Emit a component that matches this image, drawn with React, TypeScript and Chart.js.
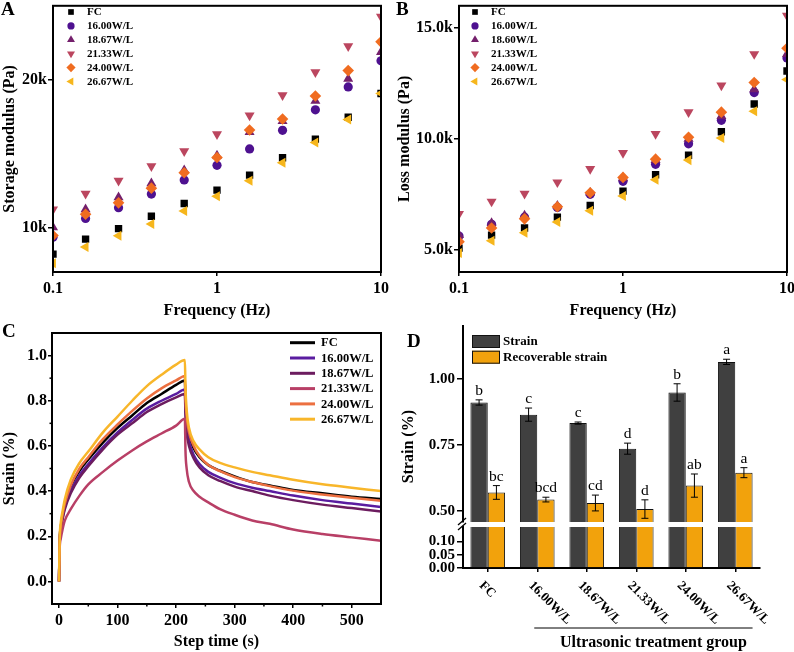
import React, { useEffect, useRef } from "react";
import { Chart, registerables } from "chart.js";

Chart.register(...registerables);

const SERIF = '"Liberation Serif", "Times New Roman", Times, serif';

// ---------------- Panels A & B (frequency sweep) ----------------
const frequencyHz = [0.1, 0.158, 0.251, 0.398, 0.631, 1, 1.58, 2.51, 3.98, 6.31, 10];
const namesA = ["FC", "16.00W/L", "18.67W/L", "21.33W/L", "24.00W/L", "26.67W/L"];
const namesB = ["FC", "16.00W/L", "18.60W/L", "21.33W/L", "24.00W/L", "26.67W/L"];

const storageFC = [8210, 9225, 9932, 10771, 11632, 12537, 13553, 14723, 15981, 17461, 19073];
const storage16 = [9357, 10616, 11345, 12272, 13221, 14215, 15319, 16578, 17969, 19514, 21281];
const storage1867 = [10020, 11234, 12051, 13000, 13884, 14877, 16467, 17196, 18565, 20066, 21877];
const storage2133 = [11234, 12294, 13177, 14149, 15164, 16313, 17593, 18962, 20508, 22274, 24261];
const storage24 = [9468, 10903, 11676, 12669, 13707, 14745, 16600, 17350, 18896, 20618, 22561];
const storage2667 = [7591, 8695, 9446, 10241, 11124, 12117, 13177, 14392, 15761, 17306, 19073];

const lossFC = [5074, 5662, 5985, 6471, 7000, 7647, 8382, 9265, 10324, 11574, 13059];
const loss16 = [5618, 6147, 6471, 6912, 7500, 8088, 8853, 9779, 10838, 12088, 13647];
const loss1860 = [5662, 6206, 6544, 6985, 7574, 8235, 9044, 10000, 11029, 12235, 13824];
const loss2133 = [6618, 7176, 7529, 8044, 8647, 9368, 10221, 11206, 12412, 13824, 15559];
const loss24 = [5368, 5985, 6397, 6941, 7574, 8265, 9088, 10074, 11206, 12544, 14088];
const loss2667 = [4853, 5412, 5765, 6250, 6765, 7426, 8162, 9044, 10044, 11250, 12676];

const freqTicks = [0.1, 1, 10];
const storageTicks = [10000, 20000];
const lossTicks = [5000, 10000, 15000];

const markerColors = ["#000000", "#4e1190", "#74206c", "#bb465f", "#f06c20", "#f6b61c"];
const markerStyles = ["rect", "circle", "triangle", "triangle", "rectRot", "triangle"];
const markerRotations = [0, 0, 0, 180, 0, 270];
const markerRadii = [5.2, 4.6, 5.8, 5.8, 5.8, 5.8];
const legendRadii = [4, 3.6, 4.6, 4.6, 4.6, 4.6];

// ---------------- Panel C (creep / recovery) ----------------
const stepTime = [0, 1, 3, 6, 10, 20, 35, 50, 75, 100, 125, 150, 175, 200, 215, 216, 218, 222, 230, 240, 255, 275, 300, 330, 360, 400, 450, 500, 550];
const namesC = ["FC", "16.00W/L", "18.67W/L", "21.33W/L", "24.00W/L", "26.67W/L"];
const strainFC = [0, 0.17, 0.24, 0.29, 0.34, 0.42, 0.49, 0.54, 0.615, 0.68, 0.735, 0.79, 0.83, 0.87, 0.89, 0.8, 0.72, 0.65, 0.59, 0.55, 0.515, 0.49, 0.465, 0.44, 0.425, 0.405, 0.39, 0.375, 0.365];
const strain16 = [0, 0.16, 0.23, 0.28, 0.33, 0.4, 0.47, 0.52, 0.595, 0.66, 0.715, 0.765, 0.8, 0.83, 0.85, 0.76, 0.68, 0.62, 0.56, 0.52, 0.485, 0.46, 0.435, 0.415, 0.4, 0.38, 0.36, 0.345, 0.33];
const strain1867 = [0, 0.16, 0.225, 0.275, 0.32, 0.39, 0.46, 0.51, 0.585, 0.65, 0.7, 0.75, 0.785, 0.815, 0.83, 0.74, 0.66, 0.6, 0.545, 0.505, 0.47, 0.445, 0.42, 0.4, 0.38, 0.36, 0.34, 0.325, 0.31];
const strain2133 = [0, 0.14, 0.19, 0.23, 0.27, 0.32, 0.38, 0.43, 0.485, 0.535, 0.58, 0.62, 0.655, 0.69, 0.72, 0.58, 0.5, 0.44, 0.4, 0.375, 0.35, 0.32, 0.295, 0.27, 0.255, 0.23, 0.21, 0.195, 0.18];
const strain24 = [0, 0.17, 0.24, 0.295, 0.345, 0.425, 0.5, 0.55, 0.63, 0.695, 0.755, 0.81, 0.855, 0.89, 0.91, 0.81, 0.73, 0.66, 0.6, 0.555, 0.515, 0.488, 0.462, 0.44, 0.422, 0.402, 0.385, 0.37, 0.357];
const strain2667 = [0, 0.18, 0.26, 0.31, 0.365, 0.45, 0.525, 0.575, 0.66, 0.73, 0.8, 0.865, 0.915, 0.96, 0.98, 0.86, 0.76, 0.68, 0.62, 0.585, 0.55, 0.525, 0.505, 0.485, 0.47, 0.45, 0.43, 0.415, 0.4];
const lineColors = ["#000000", "#5a1ca0", "#6c1c5f", "#b83f66", "#ec7040", "#f8b62a"];
const timeTicks = [0, 100, 200, 300, 400, 500];
const timeMinorTicks = [50, 150, 250, 350, 450];
const strainTicksC = [0, 0.2, 0.4, 0.6, 0.8, 1.0];
const strainMinorC = [0.1, 0.3, 0.5, 0.7, 0.9];

// ---------------- Panel D (bars with broken axis) ----------------
const groupsD = ["FC", "16.00W/L", "18.67W/L", "21.33W/L", "24.00W/L", "26.67W/L"];
const strainMean = [0.91, 0.864, 0.832, 0.735, 0.948, 1.064];
const strainErr = [0.01, 0.025, 0.004, 0.021, 0.033, 0.01];
const strainLetters = ["b", "c", "c", "d", "b", "a"];
const recovMean = [0.569, 0.542, 0.529, 0.506, 0.595, 0.644];
const recovErr = [0.026, 0.009, 0.03, 0.035, 0.044, 0.019];
const recovLetters = ["bc", "bcd", "cd", "d", "ab", "a"];
const upperTicksD = [0.5, 0.75, 1.0];
const lowerTicksD = [0, 0.05, 0.1];
const barColorsD = ["#404040", "#f2a20c"];

// ---------------- helpers ----------------
function baseOptions(padding: any) {
  return {
    responsive: false,
    maintainAspectRatio: false,
    animation: false,
    devicePixelRatio: 1,
    events: [],
    layout: { padding },
    plugins: { legend: { display: false }, tooltip: { enabled: false } },
  } as any;
}

function yFit(width: number, ticks: number[]) {
  return {
    afterFit: (s: any) => {
      s.width = width;
      s.paddingTop = 0;
      s.paddingBottom = 0;
    },
    afterBuildTicks: (s: any) => {
      s.ticks = ticks.map((v) => ({ value: v }));
    },
  };
}
function xFit(height: number, ticks?: number[]) {
  const o: any = {
    afterFit: (s: any) => {
      s.height = height;
      s.paddingLeft = 0;
      s.paddingRight = 0;
    },
  };
  if (ticks) o.afterBuildTicks = (s: any) => { s.ticks = ticks.map((v) => ({ value: v })); };
  return o;
}

const tickGrid = (len: number) => ({
  drawOnChartArea: false,
  drawTicks: true,
  tickLength: len,
  color: "#000",
  lineWidth: 1.5,
});

function drawMarker(ctx: CanvasRenderingContext2D, style: string, rot: number, x: number, y: number, r: number, color: string) {
  ctx.save();
  ctx.translate(x, y);
  ctx.rotate((rot * Math.PI) / 180);
  ctx.fillStyle = color;
  ctx.beginPath();
  if (style === "rect") {
    const s = r * Math.SQRT1_2;
    ctx.rect(-s, -s, 2 * s, 2 * s);
  } else if (style === "circle") {
    ctx.arc(0, 0, r, 0, Math.PI * 2);
  } else if (style === "triangle") {
    for (let k = 0; k < 3; k++) {
      const a = (k * 2 * Math.PI) / 3;
      const px = Math.sin(a) * r;
      const py = -Math.cos(a) * r;
      if (k === 0) ctx.moveTo(px, py);
      else ctx.lineTo(px, py);
    }
    ctx.closePath();
  } else {
    ctx.moveTo(0, -r);
    ctx.lineTo(r, 0);
    ctx.lineTo(0, r);
    ctx.lineTo(-r, 0);
    ctx.closePath();
  }
  ctx.fill();
  ctx.restore();
}

function framePlugin() {
  return {
    id: "frame",
    afterDatasetsDraw(chart: any) {
      const { ctx, chartArea: a } = chart;
      ctx.save();
      ctx.strokeStyle = "#000";
      ctx.lineWidth = 2;
      ctx.strokeRect(a.left, a.top, a.right - a.left, a.bottom - a.top);
      ctx.restore();
    },
  };
}

function panelLabel(text: string, x: number, y: number) {
  return {
    id: "panelLabel",
    afterDraw(chart: any) {
      const ctx = chart.ctx;
      ctx.save();
      ctx.font = `bold 19px ${SERIF}`;
      ctx.fillStyle = "#000";
      ctx.textAlign = "left";
      ctx.textBaseline = "alphabetic";
      ctx.fillText(text, x, y);
      ctx.restore();
    },
  };
}

const tickFont = (size: number) => ({ family: SERIF, size, weight: "bold" as const });

function makeFreqChart(
  canvas: HTMLCanvasElement,
  names: string[],
  series: number[][],
  yMin: number,
  yMax: number,
  yTicks: number[],
  yFmt: (v: number) => string,
  yTitle: string,
  leftW: number,
  padRight: number,
  legendX: number,
  label: string
) {
  const datasets = series.map((vals, i) => ({
    label: names[i],
    data: frequencyHz.map((f, k) => ({ x: f, y: vals[k] })),
    backgroundColor: markerColors[i],
    borderColor: markerColors[i],
    pointStyle: markerStyles[i],
    pointRotation: markerRotations[i],
    pointRadius: markerRadii[i],
    pointHoverRadius: markerRadii[i],
    pointBorderWidth: 0,
    clip: 0,
    order: 5 - i,
  }));
  const legend = {
    id: "legendAB",
    afterDraw(chart: any) {
      const ctx = chart.ctx;
      ctx.save();
      chart.data.datasets.forEach((ds: any, i: number) => {
        const y = 12 + i * 13.9;
        drawMarker(ctx, markerStyles[i], markerRotations[i], legendX, y, legendRadii[i], markerColors[i]);
        ctx.font = `bold 11px ${SERIF}`;
        ctx.fillStyle = "#000";
        ctx.textAlign = "left";
        ctx.textBaseline = "middle";
        ctx.fillText(ds.label, legendX + 16, y + 0.5);
      });
      ctx.restore();
    },
  };
  return new Chart(canvas, {
    type: "scatter",
    data: { datasets },
    options: {
      ...baseOptions({ top: 1, right: padRight, left: 0, bottom: 0 }),
      scales: {
        x: {
          type: "logarithmic",
          min: 0.1,
          max: 10,
          ...xFit(48, freqTicks),
          border: { display: false },
          grid: tickGrid(4),
          ticks: {
            font: tickFont(16),
            color: "#000",
            padding: 3,
            autoSkip: false,
            maxRotation: 0,
            callback: (v: any) => String(Number(v)),
          },
          title: {
            display: true,
            text: "Frequency (Hz)",
            font: tickFont(16),
            color: "#000",
            padding: { top: 0, bottom: 0 },
          },
        },
        y: {
          type: "linear",
          min: yMin,
          max: yMax,
          ...yFit(leftW, yTicks),
          border: { display: false },
          grid: tickGrid(5),
          ticks: {
            font: tickFont(16),
            color: "#000",
            padding: 1,
            autoSkip: false,
            callback: (v: any) => yFmt(Number(v)),
          },
          title: {
            display: true,
            text: yTitle,
            font: tickFont(16),
            color: "#000",
            padding: { top: 0, bottom: 0 },
          },
        },
      },
    } as any,
    plugins: [framePlugin(), legend, panelLabel(label, 1, 15)] as any,
  });
}

function makeCreepChart(canvas: HTMLCanvasElement) {
  const series = [strainFC, strain16, strain1867, strain2133, strain24, strain2667];
  const datasets = series.map((vals, i) => ({
    label: namesC[i],
    data: stepTime.map((t, k) => ({ x: t, y: vals[k] })),
    borderColor: lineColors[i],
    backgroundColor: lineColors[i],
    borderWidth: 2.5,
    pointRadius: 0,
    cubicInterpolationMode: "monotone",
    fill: false,
    clip: 0,
    order: 5 - i,
  }));
  const extras = {
    id: "creepExtras",
    afterDraw(chart: any) {
      const { ctx, chartArea: a, scales } = chart;
      ctx.save();
      ctx.strokeStyle = "#000";
      ctx.lineWidth = 1.5;
      // minor ticks
      timeMinorTicks.forEach((t) => {
        const px = scales.x.getPixelForValue(t);
        ctx.beginPath();
        ctx.moveTo(px, a.bottom);
        ctx.lineTo(px, a.bottom + 2.5);
        ctx.stroke();
      });
      strainMinorC.forEach((v) => {
        const py = scales.y.getPixelForValue(v);
        ctx.beginPath();
        ctx.moveTo(a.left, py);
        ctx.lineTo(a.left - 2.5, py);
        ctx.stroke();
      });
      // legend
      chart.data.datasets.forEach((ds: any, i: number) => {
        const y = 22.7 + i * 15.3;
        ctx.strokeStyle = lineColors[i];
        ctx.lineWidth = 3;
        ctx.beginPath();
        ctx.moveTo(290, y);
        ctx.lineTo(315, y);
        ctx.stroke();
        ctx.font = `bold 12.5px ${SERIF}`;
        ctx.fillStyle = "#000";
        ctx.textAlign = "left";
        ctx.textBaseline = "middle";
        ctx.fillText(ds.label, 321, y + 0.5);
      });
      ctx.restore();
    },
  };
  return new Chart(canvas, {
    type: "line",
    data: { datasets },
    options: {
      ...baseOptions({ top: 13, right: 14, left: 0, bottom: 0 }),
      scales: {
        x: {
          type: "linear",
          min: -12,
          max: 550,
          ...xFit(48, timeTicks),
          border: { display: false },
          grid: tickGrid(4),
          ticks: { font: tickFont(16), color: "#000", padding: 3, autoSkip: false, maxRotation: 0 },
          title: { display: true, text: "Step time (s)", font: tickFont(16), color: "#000", padding: { top: 0, bottom: 1 } },
        },
        y: {
          type: "linear",
          min: -0.1,
          max: 1.1,
          ...yFit(52, strainTicksC),
          border: { display: false },
          grid: tickGrid(4),
          ticks: {
            font: tickFont(16),
            color: "#000",
            padding: 1,
            autoSkip: false,
            callback: (v: any) => Number(v).toFixed(1),
          },
          title: { display: true, text: "Strain (%)", font: tickFont(16), color: "#000", padding: { top: 0, bottom: 0 } },
        },
      },
    } as any,
    plugins: [framePlugin(), extras, panelLabel("C", 2, 17)] as any,
  });
}

function barDatasets() {
  return [
    {
      label: "Strain",
      data: strainMean,
      backgroundColor: barColorsD[0],
      borderColor: "#111",
      borderWidth: 1,
      barPercentage: 1,
      categoryPercentage: 0.7,
      clip: 0,
    },
    {
      label: "Recoverable strain",
      data: recovMean,
      backgroundColor: barColorsD[1],
      borderColor: "#111",
      borderWidth: 1,
      barPercentage: 1,
      categoryPercentage: 0.7,
      clip: 0,
    },
  ];
}

function makeBarUpper(canvas: HTMLCanvasElement) {
  const errs = [strainErr, recovErr];
  const letters = [strainLetters, recovLetters];
  const extras = {
    id: "barUpperExtras",
    afterDraw(chart: any) {
      const { ctx, chartArea: a, scales } = chart;
      ctx.save();
      // error bars + letters
      [0, 1].forEach((d) => {
        const meta = chart.getDatasetMeta(d);
        const vals = chart.data.datasets[d].data;
        meta.data.forEach((el: any, j: number) => {
          const v = vals[j];
          const e = errs[d][j];
          const yt = scales.y.getPixelForValue(v + e);
          const yb = scales.y.getPixelForValue(v - e);
          ctx.strokeStyle = "#000";
          ctx.lineWidth = 1;
          ctx.beginPath();
          ctx.moveTo(el.x, yt);
          ctx.lineTo(el.x, yb);
          ctx.moveTo(el.x - 3.5, yt);
          ctx.lineTo(el.x + 3.5, yt);
          ctx.moveTo(el.x - 3.5, yb);
          ctx.lineTo(el.x + 3.5, yb);
          ctx.stroke();
          ctx.font = `15.5px ${SERIF}`;
          ctx.fillStyle = "#000";
          ctx.textAlign = "center";
          ctx.textBaseline = "alphabetic";
          ctx.fillText(letters[d][j], el.x, yt - 5);
        });
      });
      // legend
      chart.data.datasets.forEach((ds: any, i: number) => {
        const y = 15 + i * 15.7;
        ctx.fillStyle = barColorsD[i];
        ctx.fillRect(77, y, 28, 13);
        ctx.strokeStyle = "#111";
        ctx.lineWidth = 1;
        ctx.strokeRect(77.5, y + 0.5, 27, 12);
        ctx.font = `bold 13px ${SERIF}`;
        ctx.fillStyle = "#000";
        ctx.textAlign = "left";
        ctx.textBaseline = "middle";
        ctx.fillText(ds.label, 108, y + 6.5);
      });
      // axis break marks
      const x0 = a.left;
      const yb = a.bottom;
      ctx.strokeStyle = "#000";
      ctx.lineWidth = 1.3;
      for (let k = 0; k < 2; k++) {
        ctx.beginPath();
        ctx.moveTo(x0 - 5, yb + 3 + k * 5);
        ctx.lineTo(x0 + 3, yb - 4 + k * 5);
        ctx.stroke();
      }
      // y title
      ctx.save();
      ctx.translate(13.5, 126.7);
      ctx.rotate(-Math.PI / 2);
      ctx.font = `bold 16px ${SERIF}`;
      ctx.fillStyle = "#000";
      ctx.textAlign = "center";
      ctx.textBaseline = "middle";
      ctx.fillText("Strain (%)", 0, 0);
      ctx.restore();
      ctx.restore();
    },
  };
  return new Chart(canvas, {
    type: "bar",
    data: { labels: groupsD, datasets: barDatasets() },
    options: {
      ...baseOptions({ top: 6, right: 34, left: 0, bottom: 130 }),
      scales: {
        x: { display: false, offset: true },
        y: {
          type: "linear",
          min: 0.457,
          max: 1.2,
          ...yFit(68, upperTicksD),
          border: { display: true, color: "#000", width: 2 },
          grid: tickGrid(6),
          ticks: {
            font: tickFont(15),
            color: "#000",
            padding: 2,
            autoSkip: false,
            callback: (v: any) => Number(v).toFixed(2),
          },
        },
      },
    } as any,
    plugins: [extras, panelLabel("D", 12, 27)] as any,
  });
}

function makeBarLower(canvas: HTMLCanvasElement) {
  const extras = {
    id: "barLowerExtras",
    afterDraw(chart: any) {
      const { ctx, chartArea: a, scales } = chart;
      ctx.save();
      ctx.font = `bold 13px ${SERIF}`;
      ctx.fillStyle = "#000";
      ctx.textAlign = "left";
      ctx.textBaseline = "top";
      chart.data.labels.forEach((g: string, i: number) => {
        const px = scales.x.getPixelForValue(i);
        ctx.save();
        ctx.translate(px - 2, a.bottom + 11);
        ctx.rotate(Math.PI / 4);
        ctx.fillText(g, 0, 0);
        ctx.restore();
      });
      const lastBar = chart.getDatasetMeta(1).data[5];
      const x1 = scales.x.getPixelForValue(1) - 3;
      const x2 = lastBar.x + lastBar.width / 2;
      ctx.strokeStyle = "#000";
      ctx.lineWidth = 1;
      ctx.beginPath();
      ctx.moveTo(x1, a.bottom + 60);
      ctx.lineTo(x2, a.bottom + 60);
      ctx.stroke();
      ctx.font = `bold 16px ${SERIF}`;
      ctx.textAlign = "center";
      ctx.textBaseline = "middle";
      ctx.fillText("Ultrasonic treatment group", (x1 + x2) / 2 + 10, a.bottom + 75);
      ctx.restore();
    },
  };
  return new Chart(canvas, {
    type: "bar",
    data: { labels: groupsD, datasets: barDatasets() },
    options: {
      ...baseOptions({ top: 7, right: 34, left: 0, bottom: 0 }),
      scales: {
        x: {
          offset: true,
          ...xFit(84),
          border: { display: true, color: "#000", width: 2 },
          grid: { ...tickGrid(4), offset: false },
          ticks: { display: false },
        },
        y: {
          type: "linear",
          min: 0,
          max: 0.154,
          ...yFit(68, lowerTicksD),
          border: { display: true, color: "#000", width: 2 },
          grid: tickGrid(6),
          ticks: {
            font: tickFont(15),
            color: "#000",
            padding: 2,
            autoSkip: false,
            callback: (v: any) => Number(v).toFixed(2),
          },
        },
      },
    } as any,
    plugins: [extras] as any,
  });
}

export default function App() {
  const refA = useRef<HTMLCanvasElement>(null);
  const refB = useRef<HTMLCanvasElement>(null);
  const refC = useRef<HTMLCanvasElement>(null);
  const refDU = useRef<HTMLCanvasElement>(null);
  const refDL = useRef<HTMLCanvasElement>(null);

  useEffect(() => {
    Chart.defaults.font.family = SERIF;
    Chart.defaults.color = "#000";
    const charts = [
      makeFreqChart(
        refA.current!,
        namesA,
        [storageFC, storage16, storage1867, storage2133, storage24, storage2667],
        7000,
        25000,
        storageTicks,
        (v) => `${Math.round(v / 1000)}k`,
        "Storage modulus (Pa)",
        53,
        14,
        71,
        "A"
      ),
      makeFreqChart(
        refB.current!,
        namesB,
        [lossFC, loss16, loss1860, loss2133, loss24, loss2667],
        4000,
        16000,
        lossTicks,
        (v) => `${(v / 1000).toFixed(1)}k`,
        "Loss modulus (Pa)",
        64,
        7,
        80,
        "B"
      ),
      makeCreepChart(refC.current!),
      makeBarUpper(refDU.current!),
      makeBarLower(refDL.current!),
    ];
    return () => charts.forEach((c) => c.destroy());
  }, []);

  const cs = (left: number, top: number, w: number, h: number): React.CSSProperties => ({
    position: "absolute",
    left,
    top,
    width: w,
    height: h,
  });

  return (
    <div style={{ position: "absolute", left: 0, top: 0, width: 794, height: 652, background: "#fff", overflow: "hidden" }}>
      <canvas ref={refA} width={395} height={320} style={cs(0, 0, 395, 320)} />
      <canvas ref={refB} width={399} height={320} style={cs(395, 0, 399, 320)} />
      <canvas ref={refC} width={395} height={332} style={cs(0, 320, 395, 332)} />
      <canvas ref={refDU} width={399} height={332} style={cs(395, 320, 399, 332)} />
      <canvas ref={refDL} width={399} height={132} style={cs(395, 520, 399, 132)} />
    </div>
  );
}
